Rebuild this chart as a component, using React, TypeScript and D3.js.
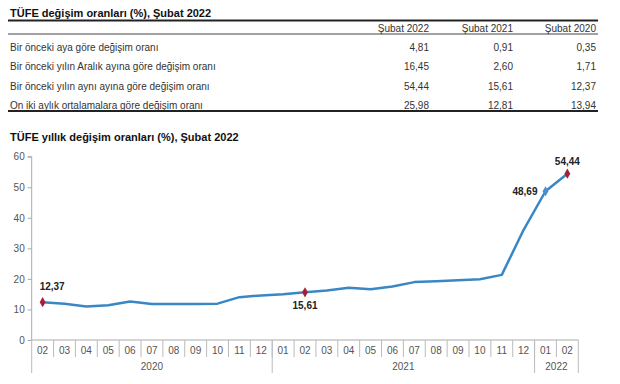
import React, { useRef, useEffect } from 'react';
import * as d3 from 'd3';

// Table data
const tableTitle = 'TÜFE değişim oranları (%), Şubat 2022';
const tableColumns = ['Şubat 2022', 'Şubat 2021', 'Şubat 2020'];
const tableRows = [
  'Bir önceki aya göre değişim oranı',
  'Bir önceki yılın Aralık ayına göre değişim oranı',
  'Bir önceki yılın aynı ayına göre değişim oranı',
  'On iki aylık ortalamalara göre değişim oranı',
];
const tableValues = [
  ['4,81', '0,91', '0,35'],
  ['16,45', '2,60', '1,71'],
  ['54,44', '15,61', '12,37'],
  ['25,98', '12,81', '13,94'],
];

// Chart data
const chartTitle = 'TÜFE yıllık değişim oranları (%), Şubat 2022';
const months = ['02', '03', '04', '05', '06', '07', '08', '09', '10', '11', '12',
  '01', '02', '03', '04', '05', '06', '07', '08', '09', '10', '11', '12',
  '01', '02'];
const years = [
  { year: '2020', count: 11 },
  { year: '2021', count: 12 },
  { year: '2022', count: 2 },
];
const annual = [12.37, 11.86, 10.94, 11.39, 12.62, 11.76, 11.77, 11.75, 11.89, 14.03, 14.60,
  14.97, 15.61, 16.19, 17.14, 16.59, 17.53, 18.95, 19.25, 19.58, 19.89, 21.31, 36.08,
  48.69, 54.44];
// index, position of label, marker color
const labeled = [
  { i: 0, pos: 'aboveRight', red: true },
  { i: 12, pos: 'below', red: true },
  { i: 23, pos: 'left', red: false },
  { i: 24, pos: 'above', red: true },
];
const yTicks = [0, 10, 20, 30, 40, 50, 60];

const FONT = '"Liberation Sans", Arial, sans-serif';

const App = () => {
  const svgRef = useRef<SVGSVGElement>(null);

  useEffect(() => {
    if (!svgRef.current) return;
    const svg = d3.select(svgRef.current);
    svg.selectAll('*').remove();
    svg.style('font-family', FONT);

    // ---- Table ----
    const tLeft = 8, tRight = 598;
    svg.append('text').attr('x', 10).attr('y', 16.5)
      .style('font-size', '11px').style('font-weight', 'bold').attr('fill', '#111')
      .text(tableTitle);
    svg.append('line').attr('x1', tLeft).attr('x2', tRight).attr('y1', 20.5).attr('y2', 20.5)
      .attr('stroke', '#222').attr('stroke-width', 2);
    svg.append('line').attr('x1', tLeft).attr('x2', tRight).attr('y1', 34).attr('y2', 34)
      .attr('stroke', '#444').attr('stroke-width', 1);
    const colX = [429, 513, 596];
    tableColumns.forEach((c, j) => {
      svg.append('text').attr('x', colX[j]).attr('y', 31.5).attr('text-anchor', 'end')
        .style('font-size', '10px').attr('fill', '#333').text(c);
    });
    const rowY = [51, 70, 90, 108.5];
    tableRows.forEach((r, i) => {
      svg.append('text').attr('x', 10).attr('y', rowY[i])
        .style('font-size', '10px').attr('fill', '#333').text(r);
      tableValues[i].forEach((v, j) => {
        svg.append('text').attr('x', colX[j]).attr('y', rowY[i]).attr('text-anchor', 'end')
          .style('font-size', '10px').attr('fill', '#333').text(v);
      });
    });
    svg.append('line').attr('x1', tLeft).attr('x2', tRight).attr('y1', 111).attr('y2', 111)
      .attr('stroke', '#222').attr('stroke-width', 2);

    // ---- Chart ----
    svg.append('text').attr('x', 10).attr('y', 140.5)
      .style('font-size', '11px').style('font-weight', 'bold').attr('fill', '#111')
      .text(chartTitle);

    const x0 = 31.7, x1 = 578.3;
    const x = d3.scaleBand<number>().domain(d3.range(months.length)).range([x0, x1]).padding(0);
    const y = d3.scaleLinear().domain([0, 60]).range([340, 156.7]);
    const cx = (i: number) => (x(i) || 0) + x.bandwidth() / 2;

    // y axis
    const yAxis = d3.axisLeft(y).tickValues(yTicks).tickSize(4).tickPadding(3);
    const gy = svg.append('g').attr('transform', `translate(${x0},0)`).call(yAxis);
    gy.select('.domain').attr('stroke', '#aaa').attr('d', `M-4,${y(60)}H0V${y(0)}`);
    gy.selectAll('.tick line').attr('stroke', '#aaa');
    gy.selectAll('.tick text').style('font-size', '10px').style('font-family', FONT).attr('fill', '#555');

    // x axis base line
    svg.append('line').attr('x1', x0).attr('x2', x1).attr('y1', y(0)).attr('y2', y(0))
      .attr('stroke', '#aaa');

    // month cells
    const g = svg.append('g');
    months.forEach((m, i) => {
      g.append('text').attr('x', cx(i)).attr('y', 354).attr('text-anchor', 'middle')
        .style('font-size', '10px').attr('fill', '#555').text(m);
    });
    // month separators
    d3.range(1, months.length).forEach(i => {
      g.append('line').attr('x1', x(i) || 0).attr('x2', x(i) || 0)
        .attr('y1', y(0)).attr('y2', 357).attr('stroke', '#bbb');
    });
    // year separators and labels
    let start = 0;
    const bounds = [0];
    years.forEach(yr => {
      const a = x(start) || 0;
      const b = start + yr.count < months.length ? (x(start + yr.count) || 0) : x1;
      g.append('text').attr('x', (a + b) / 2).attr('y', 370).attr('text-anchor', 'middle')
        .style('font-size', '10px').attr('fill', '#555').text(yr.year);
      start += yr.count;
      bounds.push(start);
    });
    bounds.forEach(k => {
      const bx = k < months.length ? (x(k) || 0) : x1;
      g.append('line').attr('x1', bx).attr('x2', bx).attr('y1', y(0)).attr('y2', 373)
        .attr('stroke', '#bbb');
    });

    // line
    const line = d3.line<number>().x((d, i) => cx(i)).y(d => y(d));
    svg.append('path').datum(annual).attr('d', line).attr('fill', 'none')
      .attr('stroke', '#3a87c5').attr('stroke-width', 2.5).attr('stroke-linejoin', 'round');

    // markers and labels
    const diamond = d3.symbol().type(d3.symbolDiamond).size(30);
    labeled.forEach(l => {
      const px = cx(l.i), py = y(annual[l.i]);
      svg.append('path').attr('d', diamond).attr('transform', `translate(${px},${py})`)
        .attr('fill', l.red ? '#a3203b' : '#4a90cc');
      const txt = annual[l.i].toFixed(2).replace('.', ',');
      const t = svg.append('text').style('font-size', '10px').style('font-weight', 'bold')
        .attr('fill', '#222').text(txt);
      if (l.pos === 'above') t.attr('x', px).attr('y', py - 9).attr('text-anchor', 'middle');
      else if (l.pos === 'aboveRight') t.attr('x', px - 3).attr('y', py - 12).attr('text-anchor', 'start');
      else if (l.pos === 'below') t.attr('x', px).attr('y', py + 17).attr('text-anchor', 'middle');
      else t.attr('x', px - 8).attr('y', py + 4).attr('text-anchor', 'end');
    });
  }, []);

  return (
    <svg ref={svgRef} width={620} height={384}
      style={{ position: 'absolute', left: 0, top: 0, background: '#fff' }} />
  );
};

export default App;
